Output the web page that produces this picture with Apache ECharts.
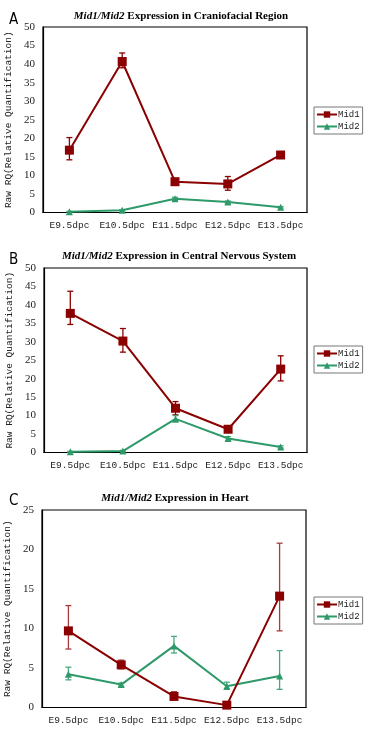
<!DOCTYPE html>
<html><head><meta charset="utf-8">
<script src="https://cdn.jsdelivr.net/npm/echarts@6/dist/echarts.min.js"></script>
<style>html,body{margin:0;padding:0;background:#fff}#c{width:367px;height:731px}</style>
</head><body><div id="c"></div>
<script>
var categories = ['E9.5dpc','E10.5dpc','E11.5dpc','E12.5dpc','E13.5dpc'];
var seriesNames = ['Mid1','Mid2'];
var yTicksAB = [0,5,10,15,20,25,30,35,40,45,50];
var yTicksC = [0,5,10,15,20,25];

var A_mid1 = [16.8, 40.7, 8.3, 7.7, 15.5];
var A_mid1_lo = [14.2, 39.0, 7.9, 6.0, 15.2];
var A_mid1_hi = [20.2, 43.0, 8.7, 9.7, 15.8];
var A_mid2 = [0.2, 0.6, 3.7, 2.8, 1.4];
var A_mid2_lo = [0.1, 0.4, 3.3, 2.5, 1.2];
var A_mid2_hi = [0.3, 0.8, 4.1, 3.1, 1.6];

var B_mid1 = [37.7, 30.2, 12.0, 6.3, 22.6];
var B_mid1_lo = [34.7, 27.2, 10.2, 5.5, 19.4];
var B_mid1_hi = [43.7, 33.6, 13.8, 7.0, 26.2];
var B_mid2 = [0.2, 0.4, 9.1, 3.8, 1.5];
var B_mid2_lo = [0.1, 0.2, 8.3, 3.3, 1.2];
var B_mid2_hi = [0.3, 0.6, 10.0, 4.3, 1.8];

var C_mid1 = [9.7, 5.4, 1.4, 0.3, 14.1];
var C_mid1_lo = [7.4, 4.9, 1.1, 0.1, 9.7];
var C_mid1_hi = [12.9, 6.0, 2.0, 0.5, 20.8];
var C_mid2 = [4.2, 2.9, 7.8, 2.7, 4.0];
var C_mid2_lo = [3.5, 2.7, 6.9, 2.3, 2.3];
var C_mid2_hi = [5.1, 3.1, 9.0, 3.2, 7.2];

var RED = '#8b0000', GREEN = '#2e9a6a';
var RED_ERR = '#a83a3a', GREEN_ERR = '#4aa87c';

var panels = [
  {letter:'A', rest:' Expression in Craniofacial Region', tx:176, ty:6, grid:{left:43, top:27, width:264, height:185.5}, max:50, ticks:yTicksAB, legTop:107,
   m1:A_mid1, m1lo:A_mid1_lo, m1hi:A_mid1_hi, m2:A_mid2, m2lo:A_mid2_lo, m2hi:A_mid2_hi, ly:13},
  {letter:'B', rest:' Expression in Central Nervous System', tx:174, ty:246, grid:{left:44, top:268, width:263, height:184.5}, max:50, ticks:yTicksAB, legTop:346,
   m1:B_mid1, m1lo:B_mid1_lo, m1hi:B_mid1_hi, m2:B_mid2, m2lo:B_mid2_lo, m2hi:B_mid2_hi, ly:253},
  {letter:'C', rest:' Expression in Heart', tx:170, ty:488, grid:{left:42, top:510, width:264, height:197.5}, max:25, ticks:yTicksC, legTop:597,
   m1:C_mid1, m1lo:C_mid1_lo, m1hi:C_mid1_hi, m2:C_mid2, m2lo:C_mid2_lo, m2hi:C_mid2_hi, ly:494}
];

function errData(lo, hi){ return lo.map(function(v,i){ return [i, v, hi[i]]; }); }
function errSeries(idx, data, color){
  return {
    type:'custom', xAxisIndex:idx, yAxisIndex:idx, z:3, silent:true,
    data:data,
    renderItem:function(params, api){
      var p1 = api.coord([api.value(0), api.value(1)]);
      var p2 = api.coord([api.value(0), api.value(2)]);
      var w = 3;
      var st = {stroke:color, lineWidth:1.3};
      return {type:'group', children:[
        {type:'line', shape:{x1:p1[0], y1:p1[1], x2:p2[0], y2:p2[1]}, style:st},
        {type:'line', shape:{x1:p1[0]-w, y1:p1[1], x2:p1[0]+w, y2:p1[1]}, style:st},
        {type:'line', shape:{x1:p2[0]-w, y1:p2[1], x2:p2[0]+w, y2:p2[1]}, style:st}
      ]};
    }
  };
}

var option = {animation:false, backgroundColor:'#fff', title:[], grid:[], xAxis:[], yAxis:[], legend:[], series:[], graphic:[]};
panels.forEach(function(p, i){
  option.title.push({
    text:'{i|Mid1/Mid2}{b|' + p.rest + '}', left:p.tx, top:p.ty, textAlign:'center',
    textStyle:{rich:{
      i:{fontFamily:'Liberation Serif', fontStyle:'italic', fontWeight:'bold', fontSize:11, color:'#000'},
      b:{fontFamily:'Liberation Serif', fontWeight:'bold', fontSize:11, color:'#000'}
    }}
  });
  option.graphic.push({type:'text', left:9, top:p.ly, style:{text:p.letter, font:'15px "Liberation Sans Narrow", "DejaVu Sans Condensed", sans-serif', fill:'#000'}});
  option.grid.push({left:p.grid.left, top:p.grid.top, width:p.grid.width, height:p.grid.height, show:true, borderColor:'#000', borderWidth:1.2, backgroundColor:'#fff', containLabel:false, outerBoundsMode:'none'});
  option.xAxis.push({type:'category', gridIndex:i, data:categories, boundaryGap:true,
    axisLine:{lineStyle:{color:'#000', width:1.2}},
    axisTick:{inside:true, length:4, lineStyle:{color:'#000'}},
    axisLabel:{fontFamily:'Liberation Mono', fontSize:9.5, color:'#222', margin:8, interval:0}});
  option.yAxis.push({type:'value', gridIndex:i, min:0, max:p.max, interval:5,
    name:'Raw RQ(Relative Quantification)', nameLocation:'middle', nameRotate:90, nameGap:28,
    nameTextStyle:{fontFamily:'Liberation Mono', fontSize:9.5, color:'#222'},
    axisLine:{show:true, lineStyle:{color:'#000', width:1.2}},
    axisTick:{show:false},
    splitLine:{show:false},
    axisLabel:{fontFamily:'Liberation Serif', fontSize:11, color:'#222', margin:8}});
  option.legend.push({orient:'vertical', left:314, top:p.legTop, data:seriesNames,
    borderColor:'#777', borderWidth:1, padding:[3,3,3,2], itemGap:3, itemWidth:20, itemHeight:8,
    textStyle:{fontFamily:'Liberation Mono', fontSize:9, color:'#222', padding:[0,0,0,-4]}});
  option.series.push(errSeries(i, errData(p.m1lo, p.m1hi), i===2 ? RED_ERR : RED));
  option.series.push(errSeries(i, errData(p.m2lo, p.m2hi), GREEN_ERR));
  option.series.push({name:'Mid1', type:'line', xAxisIndex:i, yAxisIndex:i, data:p.m1, z:5,
    symbol:'rect', symbolSize:9, itemStyle:{color:RED}, lineStyle:{color:RED, width:2}});
  option.series.push({name:'Mid2', type:'line', xAxisIndex:i, yAxisIndex:i, data:p.m2, z:4,
    symbol:'triangle', symbolSize:7, itemStyle:{color:GREEN}, lineStyle:{color:GREEN, width:2}});
});
var chart = echarts.init(document.getElementById('c'), null, {renderer:'canvas'});
chart.setOption(option);
</script></body></html>
